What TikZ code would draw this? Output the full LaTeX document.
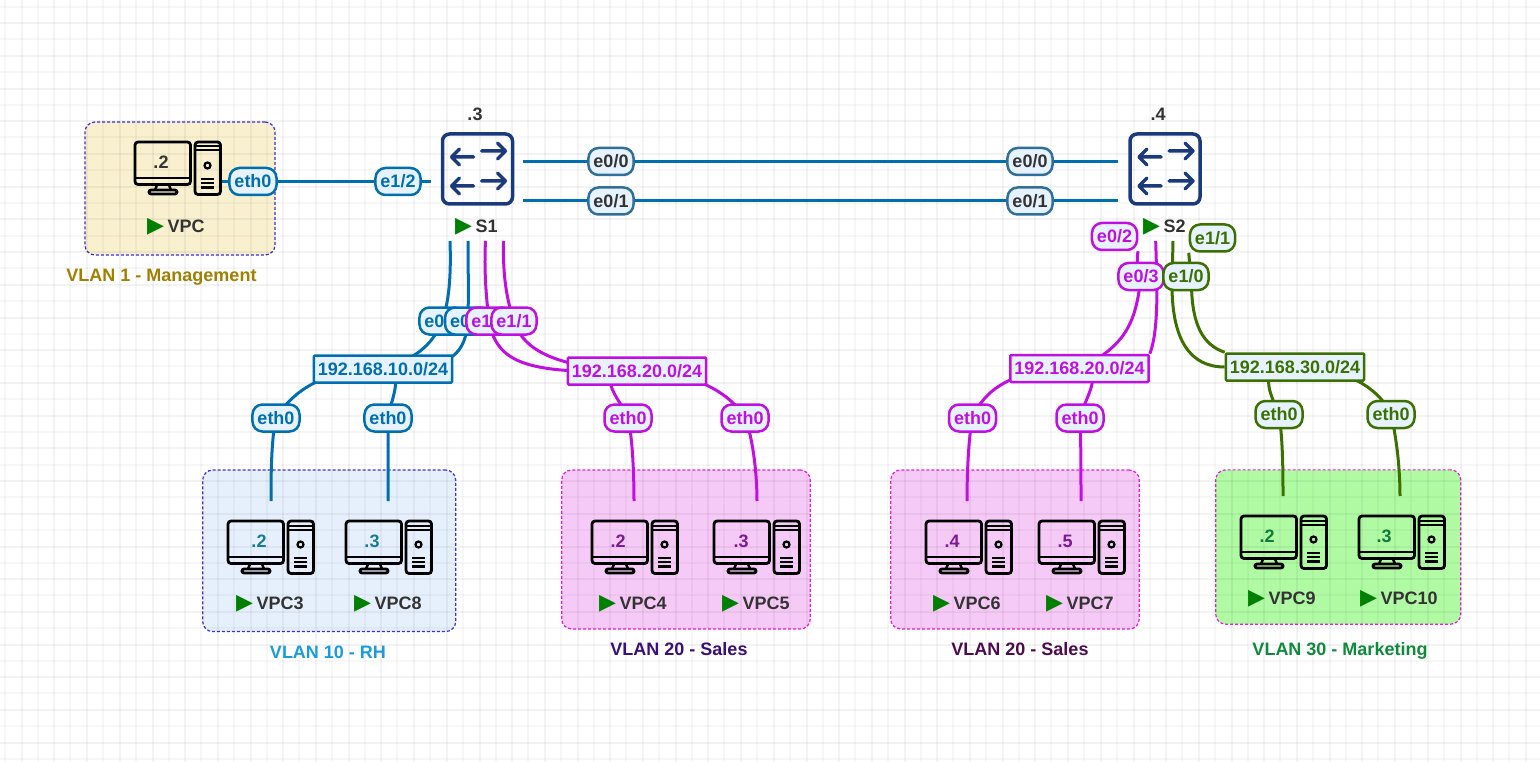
\documentclass[tikz,border=0pt]{standalone}
\usepackage{fontspec}
\usetikzlibrary{backgrounds}
\setmainfont{Liberation Sans}
\newfontfamily\playfont{DejaVu Sans}
\definecolor{linkblue}{HTML}{006EAF}
\definecolor{linkmagenta}{HTML}{C010E0}
\definecolor{linkgreen}{HTML}{3C7000}
\definecolor{trunkedge}{HTML}{2F6F9A}
\definecolor{portfill}{HTML}{E6F3FF}
\definecolor{swnavy}{HTML}{1B3A7C}
\definecolor{textgray}{HTML}{333333}
\definecolor{playgreen}{HTML}{008000}
\definecolor{dashblue}{HTML}{3F2FD0}
\definecolor{dashmagenta}{HTML}{E81CD8}
\definecolor{ipteal}{HTML}{167C94}
\definecolor{ippurple}{HTML}{7A1A96}
\definecolor{ipgreen}{HTML}{0F7A3C}
\newcommand{\playmark}{{\color{playgreen}\fontsize{22}{20}\selectfont\playfont ▶}\hspace{3.5pt}}
\tikzset{
  every node/.style={font=\fontsize{18}{20}\selectfont\bfseries, text=textgray},
  gridlight/.style={line width=2pt, black, draw opacity=.032},
  griddark/.style={line width=2pt, black, draw opacity=.048},
  vlanbox/.style={draw, rectangle, rounded corners=10pt, line width=1.2pt, dash pattern=on 3pt off 2pt, inner sep=0pt},
  port/.style={draw, fill=portfill, rectangle, rounded corners=10pt, line width=2.5pt, minimum height=27pt, inner sep=0pt, inner xsep=5pt},
  portblue/.style={port, draw=linkblue, text=linkblue},
  portmagenta/.style={port, draw=linkmagenta, text=linkmagenta},
  portgreen/.style={port, draw=linkgreen, text=linkgreen},
  porttrunk/.style={port, draw=trunkedge, text=textgray},
  subnet/.style={draw, fill=portfill, rectangle, rounded corners=1pt, line width=2.5pt, minimum height=27pt, inner sep=0pt, inner xsep=4pt},
  link/.style={line width=3pt},
  hostname/.style={anchor=west, inner sep=0pt},
  swbox/.style={draw=swnavy, rectangle, rounded corners=7pt, line width=3.5pt, minimum width=70pt, minimum height=70pt},
  hosticon/.pic={
    \draw[black, line width=2.8pt, rounded corners=3pt] (0,0) rectangle (55.5,42.5);
    \draw[black, line width=2.8pt] (0,36) -- (55.5,36);
    \draw[black, line width=2.5pt] (22,43) -- (20,48) (34,43) -- (36,48);
    \draw[black, line width=2.8pt, rounded corners=2pt] (14,48) rectangle (42,52);
    \draw[black, line width=2.8pt, rounded corners=3pt] (60,0) rectangle (85.5,52.5);
    \draw[black, line width=2pt] (60,4.5) -- (85.5,4.5) (60,8.5) -- (85.5,8.5);
    \draw[black, line width=2.2pt] (72.5,23.5) circle (3pt);
    \draw[black, line width=2.2pt] (66,37) -- (79,37) (66,41) -- (79,41) (66,45.5) -- (79,45.5);
  },
  swarrows/.pic={
    \draw[swnavy, line width=3.5pt, line cap=round, line join=round]
      (-26,-12) -- (-4,-12) (-18,-20) -- (-26,-12) -- (-18,-4)
      (-26,17) -- (-4,17) (-18,9) -- (-26,17) -- (-18,25)
      (4,-18) -- (28,-18) (20,-26) -- (28,-18) -- (20,-10)
      (4,12) -- (28,12) (20,4) -- (28,12) -- (20,20);
  }
}
\begin{document}
\begin{tikzpicture}[x=1pt, y=-1pt]
  \useasboundingbox (0,0) rectangle (1540,762);

  % ports
  \node[portblue] (vpceth) at (253,181.5) {eth0};
  \node[portblue] (s1e12) at (398,181.5) {e1/2};
  \node[porttrunk] (s1e00) at (611,161.5) {e0/0};
  \node[porttrunk] (s1e01) at (611,201) {e0/1};
  \node[porttrunk] (s2e00) at (1030,161.5) {e0/0};
  \node[porttrunk] (s2e01) at (1030,201) {e0/1};
  \node[portblue] (s1e02) at (442,321) {e0/2};
  \node[portblue] (s1e03) at (467.6,321) {e0/3};
  \node[portmagenta] (s1e10) at (489,321) {e1/0};
  \node[portmagenta] (s1e11) at (514,321) {e1/1};
  \node[portblue] (vpc3eth) at (276,418) {eth0};
  \node[portblue] (vpc8eth) at (388,418) {eth0};
  \node[portmagenta] (vpc4eth) at (628,418) {eth0};
  \node[portmagenta] (vpc5eth) at (745,418) {eth0};
  \node[portmagenta] (s2e02) at (1114.5,236.5) {e0/2};
  \node[portmagenta] (s2e03) at (1141,276.5) {e0/3};
  \node[portgreen] (s2e10) at (1186,276.5) {e1/0};
  \node[portgreen] (s2e11) at (1212.5,238) {e1/1};
  \node[portmagenta] (vpc6eth) at (972.5,418) {eth0};
  \node[portmagenta] (vpc7eth) at (1080,418) {eth0};
  \node[portgreen] (vpc9eth) at (1279,414.5) {eth0};
  \node[portgreen] (vpc10eth) at (1391,414.5) {eth0};

  % subnets
  \node[subnet, draw=linkblue, text=linkblue] (net10) at (383,369) {192.168.10.0/24};
  \node[subnet, draw=linkmagenta, text=linkmagenta] (net20a) at (637,371) {192.168.20.0/24};
  \node[subnet, draw=linkmagenta, text=linkmagenta] (net20b) at (1079.5,368.5) {192.168.20.0/24};
  \node[subnet, draw=linkgreen, text=linkgreen] (net30) at (1295,367) {192.168.30.0/24};

  % switches
  \node[swbox] (s1) at (477.5,169) {};
  \pic at (477.5,169) {swarrows};
  \node (s1ip) at (475,114) {.3};
  \node[hostname] (s1name) at (455,227) {\playmark S1};
  \node[swbox] (s2) at (1165,169) {};
  \pic at (1165,169) {swarrows};
  \node (s2ip) at (1158,114) {.4};
  \node[hostname] (s2name) at (1143,227) {\playmark S2};

  % hosts
  \foreach \host/\hx/\hy/\ipx/\ip/\ipcol in {
    vpc/135/142/161/.2/textgray,
    vpc3/228/521/259/.2/ipteal,
    vpc8/346/521/372/.3/ipteal,
    vpc4/592/521/618/.2/ippurple,
    vpc5/714/521/741/.3/ippurple,
    vpc6/926/521/952/.4/ippurple,
    vpc7/1039/521/1065/.5/ippurple,
    vpc9/1241/516/1267/.2/ipgreen,
    vpc10/1359/516/1384/.3/ipgreen} {
    \pic at (\hx,\hy) {hosticon};
    \node[text=\ipcol] (\host ip) at (\ipx,\hy+20) {\ip};
  }
  \node[hostname] (vpcname) at (147,227) {\playmark VPC};
  \node[hostname] (vpc3name) at (236,604) {\playmark VPC3};
  \node[hostname] (vpc8name) at (354,604) {\playmark VPC8};
  \node[hostname] (vpc4name) at (599,604) {\playmark VPC4};
  \node[hostname] (vpc5name) at (722,604) {\playmark VPC5};
  \node[hostname] (vpc6name) at (933,604) {\playmark VPC6};
  \node[hostname] (vpc7name) at (1046,604) {\playmark VPC7};
  \node[hostname] (vpc9name) at (1248,599) {\playmark VPC9};
  \node[hostname] (vpc10name) at (1360,599) {\playmark VPC10};

  % VLAN names
  \node[text={rgb,255:red,160;green,128;blue,0}] (vlan1name) at (161.5,277) {VLAN 1 - Management};
  \node[text={rgb,255:red,26;green,155;blue,220}] (vlan10name) at (328,652) {VLAN 10 - RH};
  \node[text={rgb,255:red,56;green,16;blue,120}] (vlan20aname) at (679,649) {VLAN 20 - Sales};
  \node[text={rgb,255:red,77;green,11;blue,77}] (vlan20bname) at (1020,649) {VLAN 20 - Sales};
  \node[text={rgb,255:red,15;green,138;blue,60}] (vlan30name) at (1340,651) {VLAN 30 - Marketing};

  % free ends of the links
  \coordinate (vpcout) at (222,181.5);
  \coordinate (s1west) at (431,181.5);
  \coordinate (s1top) at (523,161.5);
  \coordinate (s1low) at (523,201);
  \coordinate (s2top) at (1118,161.5);
  \coordinate (s2low) at (1118,201);
  \coordinate (s1d1) at (450,241);
  \coordinate (s1d2) at (468,241);
  \coordinate (s1d3) at (485.5,241);
  \coordinate (s1d4) at (503.5,241);
  \coordinate (s2d2) at (1155.7,241);
  \coordinate (s2d2in) at (1157,285);
  \coordinate (s2d3) at (1173,241);
  \coordinate (s2d3in) at (1172,285);
  \coordinate (s2d4in) at (1191.5,285);
  \coordinate (vpc3top) at (271,501);
  \coordinate (vpc8top) at (388,501);
  \coordinate (vpc4top) at (634,501);
  \coordinate (vpc5top) at (757,501);
  \coordinate (vpc6top) at (967,501);
  \coordinate (vpc7top) at (1081,501);
  \coordinate (vpc9top) at (1283,496);
  \coordinate (vpc10top) at (1400,496);

  \begin{scope}[on background layer]
    \fill[white] (0,0) rectangle (1540,762);

    % VLAN areas
    \node[vlanbox, draw=dashblue, fill={rgb,255:red,248;green,240;blue,206}, minimum width=190pt, minimum height=133pt] (vlan1) at (180,188.5) {};
    \node[vlanbox, draw=dashblue, fill={rgb,255:red,230;green,240;blue,252}, minimum width=253pt, minimum height=161.5pt] (vlan10) at (329.2,550.8) {};
    \node[vlanbox, draw=dashmagenta, fill={rgb,255:red,246;green,202;blue,247}, minimum width=248.5pt, minimum height=159pt] (vlan20a) at (686,549.5) {};
    \node[vlanbox, draw=dashmagenta, fill={rgb,255:red,246;green,202;blue,247}, minimum width=248.5pt, minimum height=159pt] (vlan20b) at (1015,549.5) {};
    \node[vlanbox, draw=dashmagenta, fill={rgb,255:red,176;green,250;blue,164}, minimum width=245pt, minimum height=154.3pt] (vlan30) at (1338.2,547) {};

    % grid
    \foreach \k in {0,...,46} {
      \draw[gridlight] ({5+32.7*\k},0) -- ({5+32.7*\k},762);
      \draw[griddark] ({21.7+32.7*\k},0) -- ({21.7+32.7*\k},762);
    }
    \foreach \k in {0,...,23} {
      \draw[gridlight] (0,{6.7+32.7*\k}) -- (1540,{6.7+32.7*\k});
      \draw[griddark] (0,{23.3+32.7*\k}) -- (1540,{23.3+32.7*\k});
    }

    % links
    \draw[link, linkblue] (vpcout) -- (vpceth) -- (s1e12) -- (s1west);
    \draw[link, linkblue] (s1top) -- (s1e00) -- (s2e00) -- (s2top);
    \draw[link, linkblue] (s1low) -- (s1e01) -- (s2e01) -- (s2low);
    \draw[link, linkblue] (s1d1) .. controls (451,270) and (450,300) .. (s1e02.center) .. controls (435,340) and (420,358) .. (net10.center) .. controls (340,369) and (300,380) .. (vpc3eth.center) .. controls (271,440) and (271,480) .. (vpc3top);
    \draw[link, linkblue] (s1d2) .. controls (468,270) and (469,300) .. (s1e03.center) .. controls (466,350) and (455,372) .. (net10.center) .. controls (405,375) and (392,395) .. (vpc8eth.center) .. controls (388,440) and (388,480) .. (vpc8top);
    \draw[link, linkmagenta] (s1d3) .. controls (484,270) and (486,295) .. (s1e10.center) .. controls (497,365) and (530,374) .. (net20a.center) .. controls (590,371) and (618,395) .. (vpc4eth.center) .. controls (633,440) and (634,480) .. (vpc4top);
    \draw[link, linkmagenta] (s1d4) .. controls (503,270) and (505,295) .. (s1e11.center) .. controls (523,350) and (555,368) .. (net20a.center) .. controls (680,371) and (725,385) .. (vpc5eth.center) .. controls (752,435) and (757,470) .. (vpc5top);
    \draw[link, linkmagenta] (s2e02.south east) .. controls (1136.5,255) and (1137,270) .. (s2e03.center) .. controls (1136,320) and (1128,345) .. (net20b.center) .. controls (1040,368) and (990,375) .. (vpc6eth.center) .. controls (968,440) and (967,480) .. (vpc6top);
    \draw[link, linkmagenta] (s2d2) -- (s2d2in) .. controls (1157,320) and (1155,340) .. (net20b.north east);
    \draw[link, linkmagenta] (net20b.center) .. controls (1105,372) and (1086,395) .. (vpc7eth.center) .. controls (1081,440) and (1081,480) .. (vpc7top);
    \draw[link, linkgreen] (s2d3) -- (s2d3in) .. controls (1172,340) and (1190,367) .. (net30.west);
    \draw[link, linkgreen] (s2e11.south west) -- (s2d4in) .. controls (1192,325) and (1203,345) .. (net30.north west);
    \draw[link, linkgreen] (net30.center) .. controls (1255,367) and (1270,392) .. (vpc9eth.center) .. controls (1283,440) and (1283,475) .. (vpc9top);
    \draw[link, linkgreen] (net30.center) .. controls (1340,367) and (1378,385) .. (vpc10eth.center) .. controls (1397,440) and (1400,470) .. (vpc10top);
  \end{scope}
\end{tikzpicture}
\end{document}
